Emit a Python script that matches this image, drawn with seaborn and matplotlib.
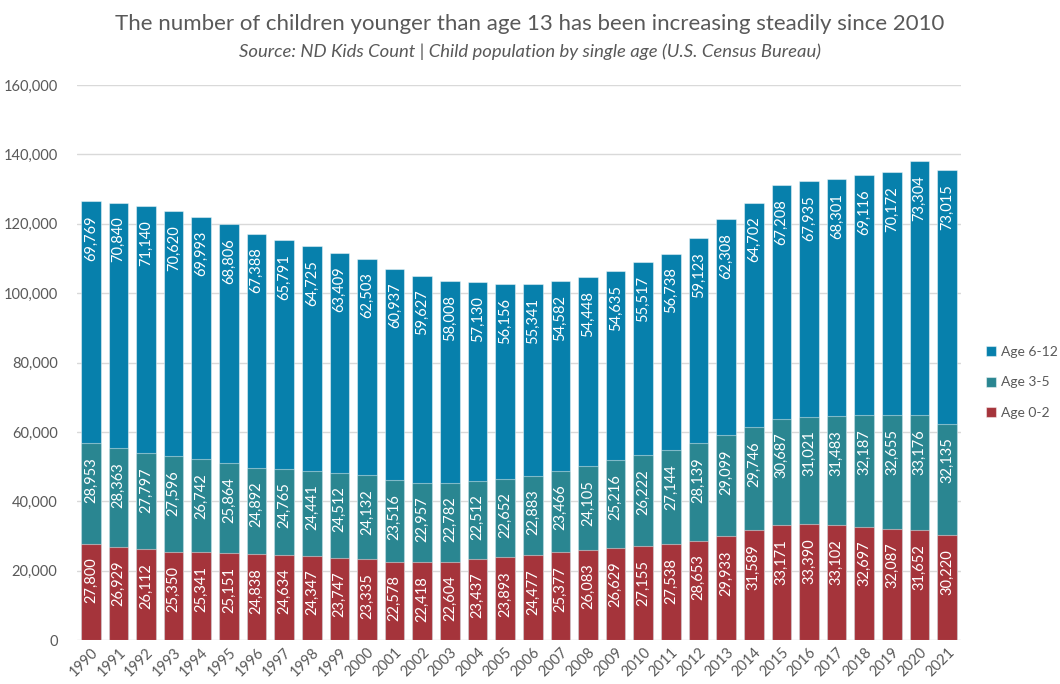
import matplotlib
matplotlib.use("Agg")
import matplotlib.pyplot as plt
import seaborn as sns
import numpy as np
import pandas as pd

years = [str(y) for y in range(1990, 2022)]
age_0_2 = [27800, 26929, 26112, 25350, 25341, 25151, 24838, 24634, 24347, 23747,
           23335, 22578, 22418, 22604, 23437, 23893, 24477, 25377, 26083, 26629,
           27155, 27538, 28653, 29933, 31589, 33171, 33390, 33102, 32697, 32087,
           31652, 30220]
age_3_5 = [28953, 28363, 27797, 27596, 26742, 25864, 24892, 24765, 24441, 24512,
           24132, 23516, 22957, 22782, 22512, 22652, 22883, 23466, 24105, 25216,
           26222, 27144, 28139, 29099, 29746, 30687, 31021, 31483, 32187, 32655,
           33176, 32135]
age_6_12 = [69769, 70840, 71140, 70620, 69993, 68806, 67388, 65791, 64725, 63409,
            62503, 60937, 59627, 58008, 57130, 56156, 55341, 54582, 54448, 54635,
            55517, 56738, 59123, 62308, 64702, 67208, 67935, 68301, 69116, 70172,
            73304, 73015]

colors = {"Age 0-2": "#A5343B", "Age 3-5": "#2A8691", "Age 6-12": "#0780AC"}

df = pd.DataFrame({"year": years, "Age 0-2": age_0_2, "Age 3-5": age_3_5,
                   "Age 6-12": age_6_12})
df["top_0_2"] = df["Age 0-2"]
df["top_3_5"] = df["top_0_2"] + df["Age 3-5"]
df["top_6_12"] = df["top_3_5"] + df["Age 6-12"]

sns.set_theme(style="white")
plt.rcParams["font.family"] = ["Lato", "DejaVu Sans"]
text_color = "#595959"

fig = plt.figure(figsize=(10.6, 6.84), dpi=100)
ax = fig.add_axes([0.0726, 0.0643, 0.834, 0.8114])

# stacked bars: draw cumulative totals from tallest to shortest
layers = [("top_6_12", "Age 6-12"), ("top_3_5", "Age 3-5"), ("top_0_2", "Age 0-2")]
for col, name in layers:
    sns.barplot(data=df, x="year", y=col, color=colors[name], saturation=1,
                width=0.71, ax=ax, edgecolor=(1, 1, 1, 0.45), linewidth=0.8,
                label=name, zorder=2)

# value labels, rotated, placed just inside the top of each segment
for i in range(len(years)):
    for col, name in [("top_0_2", "Age 0-2"), ("top_3_5", "Age 3-5"),
                      ("top_6_12", "Age 6-12")]:
        ax.annotate(f"{df[name][i]:,}", xy=(i, df[col][i]), xytext=(0, -10),
                    textcoords="offset points", rotation=90, ha="center",
                    va="top", color="white", fontsize=10.5, zorder=3)

ax.set_xlim(-0.5, len(years) - 0.5)
ax.set_ylim(0, 160000)
ax.set_yticks(np.arange(0, 160001, 20000))
ax.set_yticklabels([f"{v:,}" for v in range(0, 160001, 20000)])
ax.grid(axis="y", color="#D9D9D9", linewidth=1, zorder=0)
ax.set_axisbelow(True)
for s in ax.spines.values():
    s.set_visible(False)
ax.set_xlabel("")
ax.set_ylabel("")
ax.tick_params(axis="y", length=0, pad=14, labelsize=10.5, labelcolor=text_color)
ax.tick_params(axis="x", length=0, pad=4, labelsize=10.5, labelcolor=text_color)
for lbl in ax.get_xticklabels():
    lbl.set_rotation(45)
    lbl.set_ha("right")
    lbl.set_rotation_mode("anchor")

handles, labels = ax.get_legend_handles_labels()
ax.legend(handles, labels, loc="center left", bbox_to_anchor=(1.028, 0.464),
          frameon=False, fontsize=10, labelcolor=text_color, handlelength=0.75,
          handleheight=0.75, handletextpad=0.35, labelspacing=1.35,
          borderpad=0, borderaxespad=0)

fig.text(0.5, 0.965, "The number of children younger than age 13 has been increasing steadily since 2010",
         ha="center", va="center", fontsize=16, color=text_color)
fig.text(0.5, 0.925, "Source: ND Kids Count | Child population by single age (U.S. Census Bureau)",
         ha="center", va="center", fontsize=13.3, color=text_color, style="italic")

fig.savefig("out.png", dpi=100)
